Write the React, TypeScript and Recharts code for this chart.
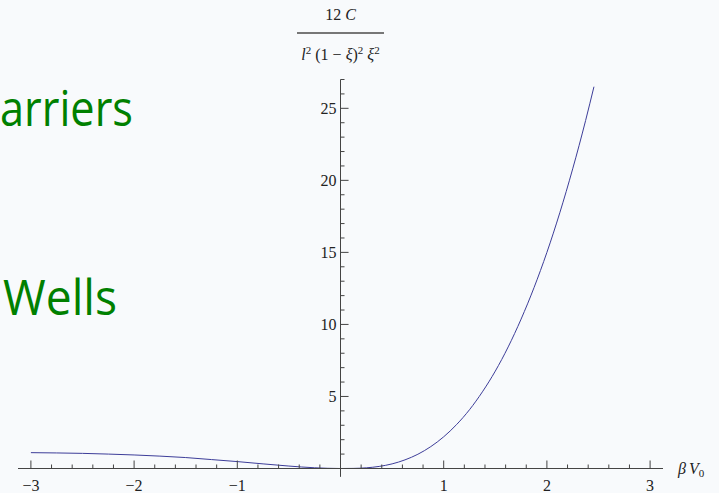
import React from 'react';
import { LineChart, Line, XAxis, YAxis, ReferenceLine } from 'recharts';

// curve: beta*V0 against 12C / (l^2 (1-xi)^2 xi^2)
const betaV0 = [
  -3, -2.75, -2.5, -2.25, -2, -1.75, -1.5, -1.25, -1, -0.75, -0.5, -0.25, 0,
  0.125, 0.25, 0.375, 0.5, 0.625, 0.75, 0.875, 1, 1.125, 1.25, 1.375, 1.5,
  1.625, 1.75, 1.875, 2, 2.125, 2.25, 2.375, 2.456,
];
const ratio = [
  1.1, 1.08, 1.05, 1.0, 0.94, 0.86, 0.76, 0.62, 0.48, 0.32, 0.17, 0.05, 0,
  0.007, 0.047, 0.145, 0.32, 0.6, 0.99, 1.52, 2.2, 3.05, 4.08, 5.32, 6.76,
  8.44, 10.37, 12.55, 15.0, 17.75, 20.8, 24.15, 26.5,
];

const xTicks = [
  -3, -2.8, -2.6, -2.4, -2.2, -2, -1.8, -1.6, -1.4, -1.2, -1, -0.8, -0.6, -0.4, -0.2,
  0.2, 0.4, 0.6, 0.8, 1, 1.2, 1.4, 1.6, 1.8, 2, 2.2, 2.4, 2.6, 2.8, 3,
];
const xMajor = [-3, -2, -1, 1, 2, 3];
const yTicks = [
  1, 2, 3, 4, 5, 6, 7, 8, 9, 10, 11, 12, 13, 14, 15, 16, 17, 18, 19, 20,
  21, 22, 23, 24, 25, 26, 27,
];
const yMajor = [5, 10, 15, 20, 25];

const data = betaV0.map((x, i) => ({ x, y: ratio[i] }));

const AXIS = '#444';
const TEXT = '#222';
const SERIF = '"Liberation Serif", "Times New Roman", serif';
// y tick lengths in x data units (about 8px and 4px)
const MAJOR_LEN = 0.078;
const MINOR_LEN = 0.039;

const fmt = (v: number) => (v < 0 ? `\u2212${-v}` : `${v}`);

const XTick = (props: any) => {
  const { x, y, payload } = props;
  const v = payload.value;
  const major = xMajor.includes(v);
  return (
    <g>
      <line x1={x} x2={x} y1={y} y2={y - (major ? 8 : 4)} stroke={AXIS} strokeWidth={1} />
      {major && (
        <text x={x} y={y + 22.5} textAnchor="middle" fontFamily={SERIF} fontSize={16} fill={TEXT}>
          {fmt(v)}
        </text>
      )}
    </g>
  );
};

const XName = (props: any) => {
  const vb = props.viewBox || {};
  const x = vb.x + vb.width + 15;
  const y = vb.y + 5;
  return (
    <text x={x} y={y} fontFamily={SERIF} fontSize={16} fill={TEXT}>
      <tspan fontStyle="italic">β</tspan>
      <tspan dx={3} fontStyle="italic">V</tspan>
      <tspan fontSize={11} dy={3}>0</tspan>
    </text>
  );
};

const YName = (props: any) => {
  const vb = props.viewBox || {};
  const cx = vb.x;
  const top = vb.y;
  return (
    <g fontFamily={SERIF} fill={TEXT}>
      <text x={cx} y={top - 59.5} textAnchor="middle" fontSize={16}>
        12 <tspan fontStyle="italic">C</tspan>
      </text>
      <line x1={cx - 43.5} x2={cx + 43.5} y1={top - 46.5} y2={top - 46.5} stroke="#777" strokeWidth={2} />
      <text x={cx} y={top - 19.5} textAnchor="middle" fontSize={16}>
        <tspan fontStyle="italic">l</tspan>
        <tspan fontSize={11} dy={-6}>2</tspan>
        <tspan dy={6}> (1 − </tspan>
        <tspan fontStyle="italic">ξ</tspan>
        <tspan>)</tspan>
        <tspan fontSize={11} dy={-6}>2</tspan>
        <tspan dy={6}> </tspan>
        <tspan fontStyle="italic">ξ</tspan>
        <tspan fontSize={11} dy={-6}>2</tspan>
      </text>
    </g>
  );
};

export default function App() {
  return (
    <div
      style={{
        position: 'absolute',
        left: 0,
        top: 0,
        width: 719,
        height: 493,
        background: '#f8fafc',
        overflow: 'hidden',
      }}
    >
      <svg width={719} height={493} style={{ position: 'absolute', left: 0, top: 0 }}>
        <text
          x={0}
          y={125.7}
          fontFamily='"Open Sans", "Liberation Sans", sans-serif'
          fontSize={49}
          fill="#008000"
          textLength={133}
          lengthAdjust="spacingAndGlyphs"
        >
          arriers
        </text>
        <text
          x={3}
          y={315}
          fontFamily='"Open Sans", "Liberation Sans", sans-serif'
          fontSize={49}
          fill="#008000"
          textLength={114}
          lengthAdjust="spacingAndGlyphs"
        >
          Wells
        </text>
      </svg>
      <div style={{ position: 'absolute', left: 0, top: 0 }}>
        <LineChart
          width={719}
          height={493}
          data={data}
          margin={{ top: 79.5, right: 56, left: 18, bottom: 4.5 }}
        >
          <XAxis
            type="number"
            dataKey="x"
            domain={[-3.125, 3.125]}
            ticks={xTicks}
            interval={0}
            tickLine={false}
            tickSize={0}
            tickMargin={0}
            height={20}
            axisLine={{ stroke: AXIS, strokeWidth: 1 }}
            tick={<XTick />}
            label={<XName />}
          />
          <YAxis type="number" domain={[0, 27]} hide />
          <ReferenceLine
            segment={[
              { x: 0, y: -0.58 },
              { x: 0, y: 27 },
            ]}
            stroke={AXIS}
            strokeWidth={1}
            ifOverflow="visible"
            label={<YName />}
          />
          {yTicks.map((v) => {
            const major = yMajor.includes(v);
            return (
              <ReferenceLine
                key={v}
                segment={[
                  { x: 0, y: v },
                  { x: major ? MAJOR_LEN : MINOR_LEN, y: v },
                ]}
                stroke={AXIS}
                strokeWidth={1}
                ifOverflow="visible"
                label={
                  major
                    ? {
                        value: String(v),
                        position: 'left',
                        offset: 4,
                        fill: TEXT,
                        fontSize: 16,
                        fontFamily: SERIF,
                      }
                    : undefined
                }
              />
            );
          })}
          <Line
            type="monotone"
            dataKey="y"
            stroke="#3d3d99"
            strokeWidth={1}
            dot={false}
            isAnimationActive={false}
          />
        </LineChart>
      </div>
    </div>
  );
}
